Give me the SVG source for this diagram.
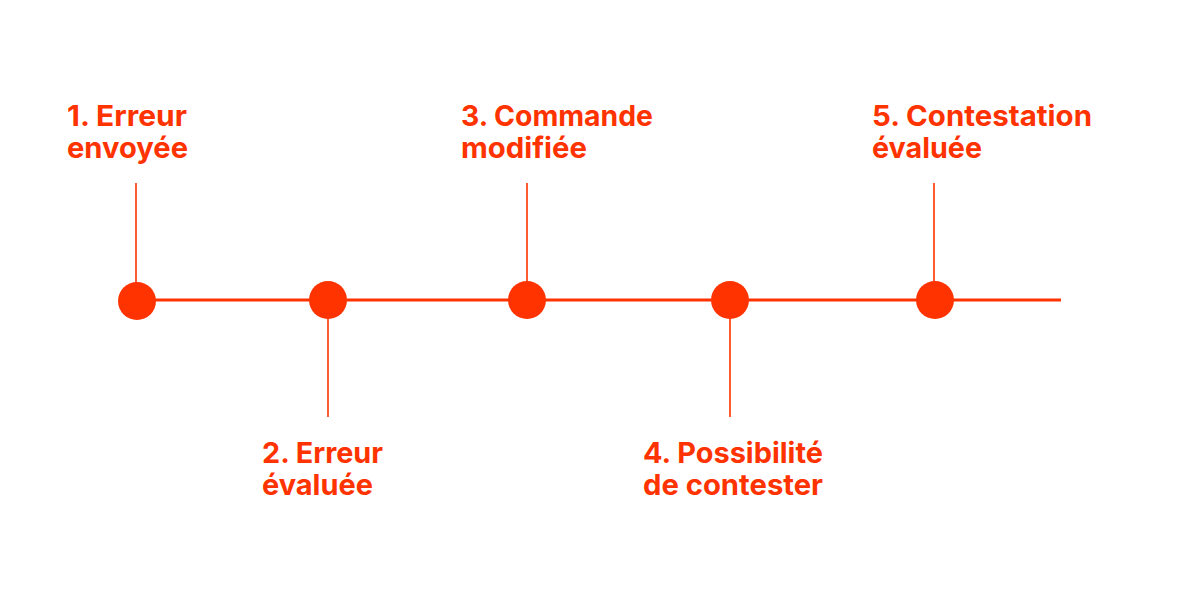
<svg xmlns="http://www.w3.org/2000/svg" width="1200" height="600" viewBox="0 0 1200 600">
<style>
.lbl{font-family:"Inter","Liberation Sans",sans-serif;font-weight:700;font-size:29px;fill:#FF3300}
.tick{stroke:#FF3300;stroke-width:1.6}
.main{stroke:#FF3300;stroke-width:3}
.dot{fill:#FF3300}
</style>
<rect width="1200" height="600" fill="#fff"/>
<g id="connectors">
<line class="main" x1="137" y1="300" x2="1061" y2="300"/>
<line class="tick" x1="136" y1="183" x2="136" y2="300"/>
<line class="tick" x1="328" y1="300" x2="328" y2="417"/>
<line class="tick" x1="527" y1="183" x2="527" y2="300"/>
<line class="tick" x1="730" y1="300" x2="730" y2="417"/>
<line class="tick" x1="934" y1="183" x2="934" y2="300"/>
</g>
<g id="node1"><circle class="dot" cx="137" cy="301" r="19"/><text class="lbl" x="67" y="126" textLength="120" lengthAdjust="spacingAndGlyphs">1. Erreur</text><text class="lbl" x="67" y="158" textLength="121" lengthAdjust="spacingAndGlyphs">envoyée</text></g>
<g id="node2"><circle class="dot" cx="328" cy="300" r="19"/><text class="lbl" x="262" y="463" textLength="121" lengthAdjust="spacingAndGlyphs">2. Erreur</text><text class="lbl" x="262" y="495" textLength="111" lengthAdjust="spacingAndGlyphs">évaluée</text></g>
<g id="node3"><circle class="dot" cx="527" cy="300" r="19"/><text class="lbl" x="461" y="126" textLength="192" lengthAdjust="spacingAndGlyphs">3. Commande</text><text class="lbl" x="461" y="158" textLength="126" lengthAdjust="spacingAndGlyphs">modifiée</text></g>
<g id="node4"><circle class="dot" cx="730" cy="300" r="19"/><text class="lbl" x="643" y="463" textLength="180" lengthAdjust="spacingAndGlyphs">4. Possibilité</text><text class="lbl" x="643" y="495" textLength="180" lengthAdjust="spacingAndGlyphs">de contester</text></g>
<g id="node5"><circle class="dot" cx="935" cy="300" r="19"/><text class="lbl" x="872" y="126" textLength="220" lengthAdjust="spacingAndGlyphs">5. Contestation</text><text class="lbl" x="872" y="158" textLength="110" lengthAdjust="spacingAndGlyphs">évaluée</text></g>
</svg>
